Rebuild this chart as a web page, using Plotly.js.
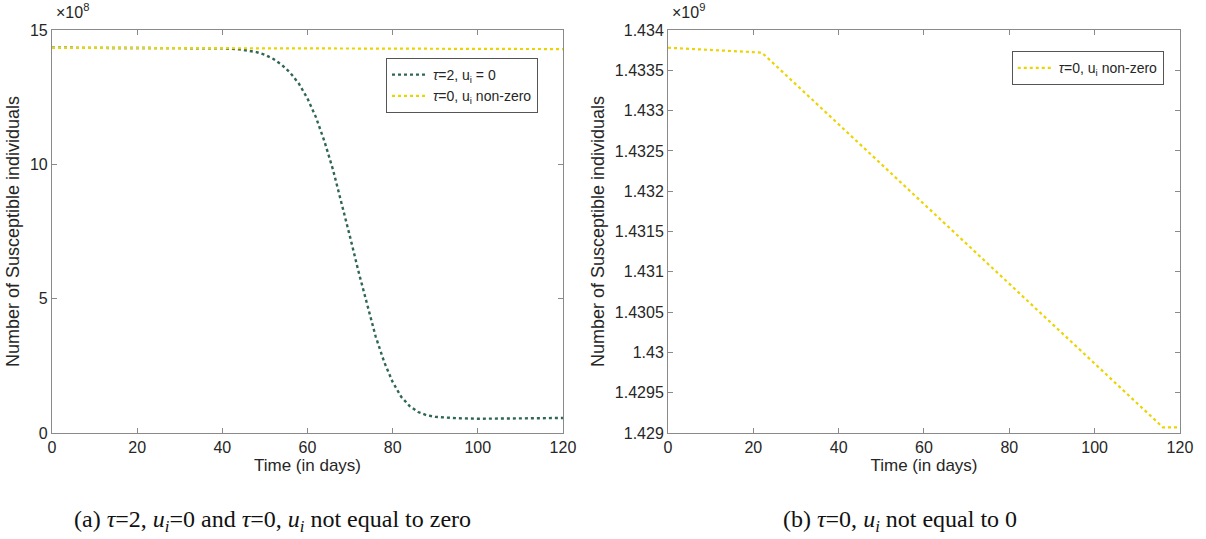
<!DOCTYPE html>
<html>
<head>
<meta charset="utf-8">
<script src="https://cdn.plot.ly/plotly-3.0.1.min.js"></script>
<style>html,body{margin:0;padding:0;background:#fff;}#chart{width:1206px;height:539px;}</style>
</head>
<body>
<div id="chart"></div>
<script>
// Panel (a): values in units of 1e8
var tA = [0, 10, 20, 30, 40, 44, 48, 50, 52, 54, 56, 58, 60, 62, 64, 66, 68, 70, 72, 74, 76, 78, 80, 82, 84, 86, 88, 90, 95, 100, 105, 110, 115, 120];
var sDelay = [14.34, 14.34, 14.34, 14.335, 14.32, 14.28, 14.18, 14.08, 13.92, 13.7, 13.4, 13.0, 12.45, 11.75, 10.85, 9.8, 8.6, 7.3, 6.0, 4.75, 3.6, 2.65, 1.9, 1.35, 1.0, 0.78, 0.66, 0.6, 0.55, 0.53, 0.53, 0.54, 0.55, 0.56];
var tB = [0, 22, 40, 60, 80, 100, 116, 120];
var sCtrlA = [14.338, 14.337, 14.328, 14.318, 14.308, 14.298, 14.291, 14.291];
// Panel (b): values in units of 1e9
var sCtrlB = [1.43378, 1.43372, 1.43283, 1.43184, 1.43085, 1.42986, 1.42907, 1.42907];

var xTicks = [0, 20, 40, 60, 80, 100, 120];
var yTicksA = [0, 5, 10, 15];
var yTicksB = [1.429, 1.4295, 1.43, 1.4305, 1.431, 1.4315, 1.432, 1.4325, 1.433, 1.4335, 1.434];
var yTickTextB = ['1.429', '1.4295', '1.43', '1.4305', '1.431', '1.4315', '1.432', '1.4325', '1.433', '1.4335', '1.434'];

var green = '#2f6656';
var yellow = '#ecd400';
var font = 'Liberation Sans, Arial, sans-serif';

var traces = [
  {x: tA, y: sDelay, type: 'scatter', mode: 'lines', name: '<i>τ</i>=2, u<sub>i</sub> = 0',
   line: {color: green, width: 2.4, dash: 'dot'}, xaxis: 'x', yaxis: 'y', legend: 'legend'},
  {x: tB, y: sCtrlA, type: 'scatter', mode: 'lines', name: '<i>τ</i>=0, u<sub>i</sub> non-zero',
   line: {color: yellow, width: 2.2, dash: 'dot'}, xaxis: 'x', yaxis: 'y', legend: 'legend'},
  {x: tB, y: sCtrlB, type: 'scatter', mode: 'lines', name: '<i>τ</i>=0, u<sub>i</sub> non-zero',
   line: {color: yellow, width: 2.2, dash: 'dot'}, xaxis: 'x2', yaxis: 'y2', legend: 'legend2'}
];

function xax(domain, anchor) {
  return {domain: domain, anchor: anchor, range: [0, 120], tickvals: xTicks,
    showline: true, mirror: 'ticks', linecolor: '#8a8a8a', linewidth: 1,
    ticks: 'inside', ticklen: 5, tickcolor: '#8a8a8a', showgrid: false, zeroline: false,
    tickfont: {family: font, size: 16, color: '#262626'},
    title: {text: 'Time (in days)', font: {family: font, size: 17, color: '#262626'}, standoff: 2}};
}
function yax(domain, anchor, range, vals, text) {
  var a = {domain: domain, anchor: anchor, range: range, tickvals: vals,
    showline: true, mirror: 'ticks', linecolor: '#8a8a8a', linewidth: 1,
    ticks: 'inside', ticklen: 5, tickcolor: '#8a8a8a', showgrid: false, zeroline: false,
    tickfont: {family: font, size: 16, color: '#262626'},
    title: {text: 'Number of Susceptible individuals', font: {family: font, size: 18, color: '#262626'}, standoff: 5}};
  if (text) a.ticktext = text;
  return a;
}

var yDom = [0.1967, 0.9443];
var layout = {
  width: 1206, height: 539,
  margin: {l: 0, r: 0, t: 0, b: 0},
  paper_bgcolor: '#fff', plot_bgcolor: '#fff',
  showlegend: true,
  xaxis: xax([0.0431, 0.4668], 'y'),
  yaxis: yax(yDom, 'x', [0, 15], yTicksA),
  xaxis2: xax([0.5539, 0.9784], 'y2'),
  yaxis2: yax(yDom, 'x2', [1.429, 1.434], yTicksB, yTickTextB),
  legend: {x: 0.4461, xanchor: 'right', y: 0.8924, yanchor: 'top',
    bordercolor: '#555', borderwidth: 1, bgcolor: '#fff',
    font: {family: font, size: 14, color: '#262626'}, tracegroupgap: 0, itemwidth: 36},
  legend2: {x: 0.9650, xanchor: 'right', y: 0.905, yanchor: 'top',
    bordercolor: '#555', borderwidth: 1, bgcolor: '#fff',
    font: {family: font, size: 14, color: '#262626'}, itemwidth: 36},
  annotations: [
    {xref: 'paper', yref: 'paper', x: 0.0445, y: 0.958, xanchor: 'left', yanchor: 'bottom', showarrow: false,
     text: '×10<sup>8</sup>', font: {family: font, size: 16, color: '#262626'}},
    {xref: 'paper', yref: 'paper', x: 0.5553, y: 0.958, xanchor: 'left', yanchor: 'bottom', showarrow: false,
     text: '×10<sup>9</sup>', font: {family: font, size: 16, color: '#262626'}},
    {xref: 'paper', yref: 'paper', x: 0.2263, y: 0.033, xanchor: 'center', yanchor: 'middle', showarrow: false,
     text: '(a) <i>τ</i>=2, <i>u<sub>i</sub></i>=0 and <i>τ</i>=0, <i>u<sub>i</sub></i> not equal to zero',
     font: {family: 'Liberation Serif, Times New Roman, serif', size: 24, color: '#111'}},
    {xref: 'paper', yref: 'paper', x: 0.7465, y: 0.033, xanchor: 'center', yanchor: 'middle', showarrow: false,
     text: '(b) <i>τ</i>=0, <i>u<sub>i</sub></i> not equal to 0',
     font: {family: 'Liberation Serif, Times New Roman, serif', size: 24, color: '#111'}}
  ]
};

Plotly.newPlot('chart', traces, layout, {displayModeBar: false, staticPlot: true});
</script>
</body>
</html>
